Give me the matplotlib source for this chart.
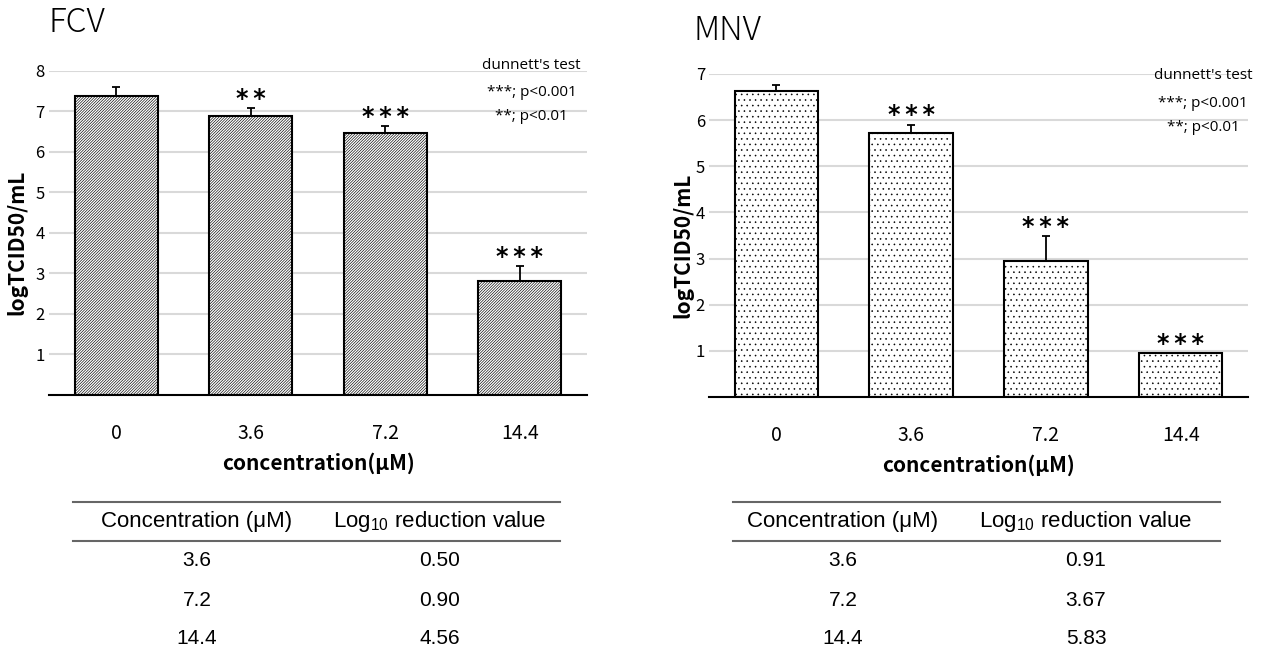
import matplotlib.pyplot as plt
from matplotlib.lines import Line2D

# bar chart data (logTCID50/mL)
conc_labels = ['0', '3.6', '7.2', '14.4']
fcv_mean = [7.38, 6.88, 6.48, 2.82]
fcv_err = [0.22, 0.21, 0.16, 0.36]
fcv_stars = ['', '**', '***', '***']
mnv_mean = [6.63, 5.72, 2.95, 0.95]
mnv_err = [0.13, 0.18, 0.54, 0.0]
mnv_stars = ['', '***', '***', '***']

# table data
table_conc = ['3.6', '7.2', '14.4']
fcv_reduction = ['0.50', '0.90', '4.56']
mnv_reduction = ['0.91', '3.67', '5.83']

JP = ['Noto Sans CJK JP', 'DejaVu Sans']

fig = plt.figure(figsize=(12.63, 6.55), dpi=100)


def draw_panel(rect, means, errs, stars, ymax, hatch, hatch_lw, label_x, note_x, note_y):
    ax = fig.add_axes(rect)
    x = range(len(means))
    plt.rcParams['hatch.linewidth'] = hatch_lw
    ax.bar(x, means, width=0.62, color='white', edgecolor='black',
           linewidth=1.5, hatch=hatch, zorder=3)
    ax.errorbar(x, means, yerr=[[0] * len(errs), errs], fmt='none',
                ecolor='black', elinewidth=1.3, capsize=3, capthick=1.3, zorder=4)
    for xi, m, e, s in zip(x, means, errs, stars):
        if s:
            ax.annotate('\u2009'.join(s), (xi, m + e), xytext=(0, -2),
                        textcoords='offset points', ha='center', va='bottom',
                        fontsize=17, fontweight='bold')
    ax.set_xlim(-0.5, 3.5)
    ax.set_ylim(0, ymax)
    ax.set_yticks(range(1, ymax + 1))
    ax.set_xticks(list(x))
    ax.set_xticklabels(conc_labels, fontsize=14, family=JP)
    for lab in ax.get_yticklabels():
        lab.set_family(JP)
        lab.set_fontsize(12)
    ax.tick_params(axis='x', length=0, pad=20)
    ax.tick_params(axis='y', length=0, pad=3)
    ax.grid(axis='y', color='#d9d9d9', linewidth=1.5, zorder=0)
    for sp in ['left', 'right', 'top']:
        ax.spines[sp].set_visible(False)
    ax.spines['bottom'].set_linewidth(1.5)
    ax.spines['bottom'].set_zorder(5)
    ax.set_xlabel('concentration(μM)', fontsize=15, fontweight='bold', family=JP, labelpad=6)
    ax.set_ylabel('logTCID50/mL', fontsize=15, fontweight='bold', family=JP)
    ax.yaxis.set_label_coords(label_x, 0.47)
    notes = ["dunnett's test", "***; p<0.001", "**; p<0.01"]
    for txt, yy in zip(notes, note_y):
        ax.text(note_x, yy, txt, transform=ax.transAxes, fontsize=11,
                family='Open Sans', ha='center', va='center')
    return ax


ax1 = draw_panel([0.0388, 0.397, 0.426, 0.4947], fcv_mean, fcv_err, fcv_stars, 8,
                 '////////////', 0.45, -0.04, 0.897, [1.018, 0.932, 0.858])
ax2 = draw_panel([0.5614, 0.394, 0.4268, 0.4931], mnv_mean, mnv_err, mnv_stars, 7,
                 '...', 0.4, -0.03, 0.917, [0.994, 0.907, 0.833])

fig.text(48 / 1263, 1 - 6 / 655, 'FCV', fontsize=24, family=JP, fontweight='light',
         ha='left', va='top')
fig.text(693 / 1263, 1 - 14 / 655, 'MNV', fontsize=24, family=JP, fontweight='light',
         ha='left', va='top')

plt.rcParams['mathtext.fontset'] = 'custom'
plt.rcParams['mathtext.rm'] = 'Liberation Sans'


def draw_table(x0, x1, c1, c2, reductions):
    W, H = 1263, 655
    for yl in (502, 541):
        fig.add_artist(Line2D([x0 / W, x1 / W], [1 - yl / H, 1 - yl / H],
                              color='#666666', linewidth=1.5))
    fig.text(c1 / W, 1 - 522 / H, 'Concentration (μM)', fontsize=16,
             family='Liberation Sans', ha='center', va='center')
    fig.text(c2 / W, 1 - 522 / H, 'Log$_{10}$ reduction value', fontsize=16,
             family='Liberation Sans', ha='center', va='center')
    for i, (c, r) in enumerate(zip(table_conc, reductions)):
        yy = 1 - (561 + 39 * i) / H
        fig.text(c1 / W, yy, c, fontsize=15, family='Liberation Sans',
                 ha='center', va='center')
        fig.text(c2 / W, yy, r, fontsize=15, family='Liberation Sans',
                 ha='center', va='center')


draw_table(73, 560, 197, 440, fcv_reduction)
draw_table(733, 1220, 843, 1086, mnv_reduction)

fig.savefig('out.png', dpi=100)
